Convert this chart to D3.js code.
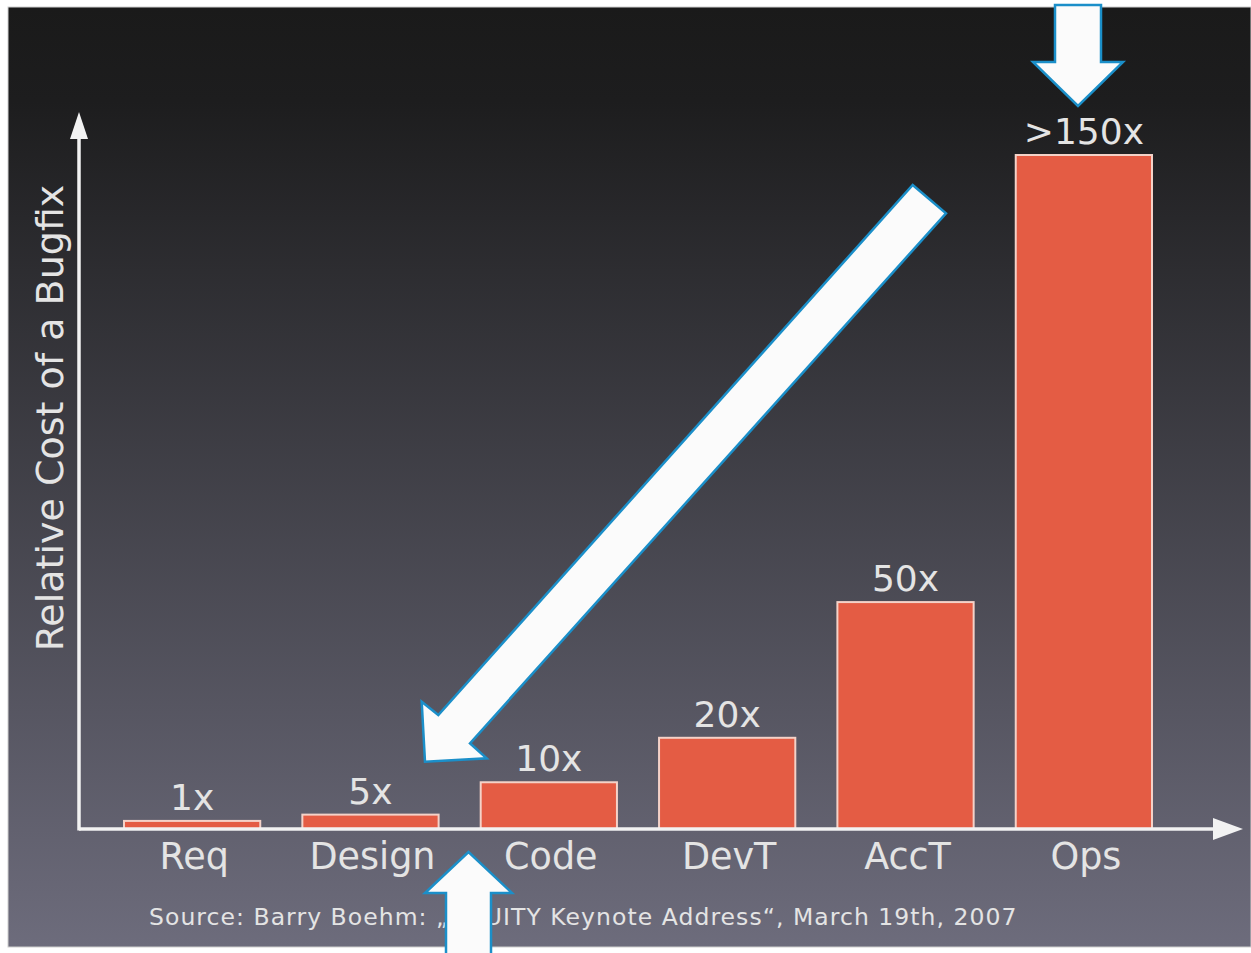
<!DOCTYPE html>
<html>
<head>
<meta charset="utf-8">
<script src="https://cdn.jsdelivr.net/npm/d3@7"></script>
<style>
  html, body { margin: 0; padding: 0; background: #ffffff; }
  svg { display: block; }
  text { font-family: "DejaVu Sans", "Liberation Sans", sans-serif; }
</style>
</head>
<body>
<svg id="chart" width="1251" height="953"></svg>
<script>
// ---- data ----
const categories = ["Req", "Design", "Code", "DevT", "AccT", "Ops"];
const values = [1.8, 3.2, 10.4, 20.3, 50.5, 150];          // bar heights
const valueLabels = ["1x", "5x", "10x", "20x", "50x", ">150x"];
const yAxisTitle = "Relative Cost of a Bugfix";
const sourceNote = "Source: Barry Boehm: \u201EEQUITY Keynote Address\u201C, March 19th, 2007";

const W = 1251, H = 953;
const svg = d3.select("#chart");
const defs = svg.append("defs");

// slide background gradient
const grad = defs.append("linearGradient").attr("id", "bg").attr("x1", 0).attr("y1", 0).attr("x2", 0).attr("y2", 1);
grad.append("stop").attr("offset", "0%").attr("stop-color", "#1a1a1a");
grad.append("stop").attr("offset", "10%").attr("stop-color", "#1d1d1e");
grad.append("stop").attr("offset", "100%").attr("stop-color", "#6d6c7c");

svg.append("rect").attr("x", 0).attr("y", 0).attr("width", W).attr("height", H).attr("fill", "#ffffff");
svg.append("rect").attr("x", 8).attr("y", 7).attr("width", W - 8).attr("height", 940)
   .attr("fill", "url(#bg)").attr("stroke", "#cfcfcf").attr("stroke-width", 1);

// ---- scales ----
const x = d3.scaleBand().domain(categories).range([124, 1152]).paddingInner(0.236).paddingOuter(0);
const y = d3.scaleLinear().domain([0, 150]).range([829, 155]);

const axisColor = "#f2f2f2";
const textColor = "#e4e4e4";
const x0 = 79, yBase = y(0);

// bars
svg.append("g").selectAll("rect").data(categories).join("rect")
  .attr("x", d => x(d))
  .attr("y", (d, i) => y(values[i]))
  .attr("width", x.bandwidth())
  .attr("height", (d, i) => yBase - y(values[i]))
  .attr("fill", "#e45c44")
  .attr("stroke", "#f4d2c8")
  .attr("stroke-width", 2);

// value labels
svg.append("g").selectAll("text").data(categories).join("text")
  .attr("x", d => x(d) + x.bandwidth() / 2)
  .attr("y", (d, i) => y(values[i]) - 11)
  .attr("text-anchor", "middle")
  .attr("font-size", 36)
  .attr("fill", textColor)
  .text((d, i) => valueLabels[i]);

// category labels (x axis ticks)
const xAxis = d3.axisBottom(x).tickSize(0).tickPadding(0);
const gx = svg.append("g").attr("transform", `translate(2,${yBase})`).call(xAxis);
gx.select(".domain").remove();
gx.selectAll("text")
  .attr("y", 40)
  .attr("dy", 0)
  .attr("font-size", 36.5)
  .attr("font-family", "DejaVu Sans")
  .attr("fill", textColor);

// axes lines with arrow heads
svg.append("line").attr("x1", x0).attr("y1", yBase).attr("x2", 1220).attr("y2", yBase)
  .attr("stroke", axisColor).attr("stroke-width", 3.5);
svg.append("line").attr("x1", x0).attr("y1", yBase + 1.5).attr("x2", x0).attr("y2", 130)
  .attr("stroke", axisColor).attr("stroke-width", 3.5);
svg.append("path").attr("d", `M1243,${yBase} L1213,${yBase - 11} L1213,${yBase + 11} Z`).attr("fill", axisColor);
svg.append("path").attr("d", `M${x0},112 L${x0 - 9},139 L${x0 + 9},139 Z`).attr("fill", axisColor);

// y axis title
svg.append("text")
  .attr("transform", "translate(63,418) rotate(-90)")
  .attr("text-anchor", "middle")
  .attr("font-size", 38)
  .attr("fill", textColor)
  .text(yAxisTitle);

// source note
svg.append("text")
  .attr("x", 149).attr("y", 925)
  .attr("font-size", 23.5)
  .attr("letter-spacing", 1.05)
  .attr("fill", textColor)
  .text(sourceNote);

// ---- annotation arrows (white with blue outline) ----
const arrowStyle = g => g.attr("fill", "#fbfbfb").attr("stroke", "#1b8fc9").attr("stroke-width", 2.5).attr("stroke-linejoin", "miter");
const line = d3.line();

// down arrow above Ops
const cxTop = 1078;
svg.append("path").call(arrowStyle).attr("d", line([
  [cxTop - 23, 5], [cxTop + 23, 5], [cxTop + 23, 62], [cxTop + 45, 62],
  [cxTop, 106], [cxTop - 45, 62], [cxTop - 23, 62]
]) + "Z");

// diagonal arrow from Ops toward Design/Code
svg.append("path").call(arrowStyle).attr("d", line([
  [912.7, 185], [946, 213.3], [470, 743.3], [486.7, 758.3],
  [425, 761.7], [421.7, 701.7], [438.3, 715]
]) + "Z");

// up arrow between Design and Code
const cxBot = 468.5;
svg.append("path").call(arrowStyle).attr("d", line([
  [cxBot - 22.5, 960], [cxBot - 22.5, 893], [cxBot - 43.5, 893], [cxBot, 852],
  [cxBot + 43.5, 893], [cxBot + 22.5, 893], [cxBot + 22.5, 960]
]) + "Z");
</script>
</body>
</html>
